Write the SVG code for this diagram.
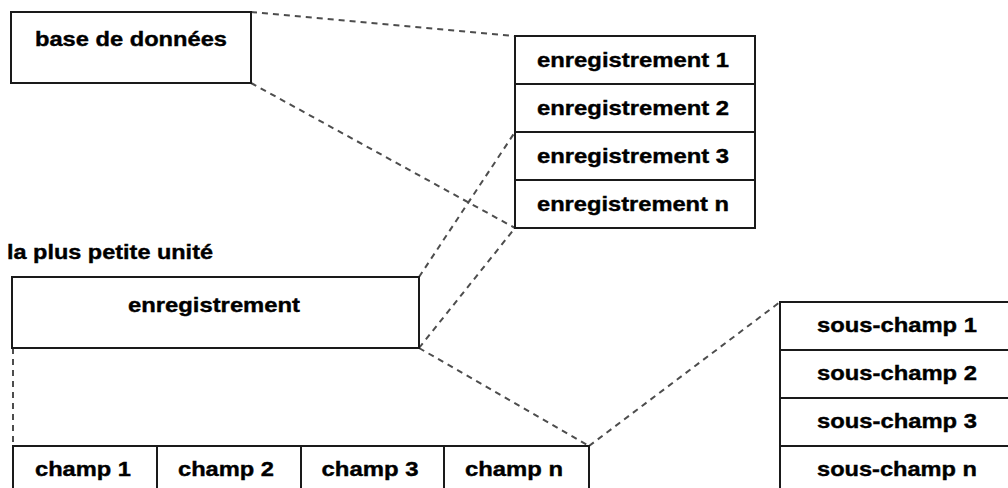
<svg xmlns="http://www.w3.org/2000/svg" width="1008" height="488" viewBox="0 0 1008 488">
  <style>
    .box { fill: #ffffff; stroke: #1a1a1a; stroke-width: 2; }
    .sep { stroke: #1a1a1a; stroke-width: 2; }
    .link { stroke: #4d4d4d; stroke-width: 2; stroke-dasharray: 6 5; fill: none; }
    .lbl, .cap { font-family: "Liberation Sans", Arial, sans-serif; font-weight: bold; font-size: 21px; fill: #000000; stroke: #000000; stroke-width: 0.4; }
    .lbl { text-anchor: middle; }
  </style>
  <rect width="1008" height="488" fill="#ffffff"/>

  <!-- dashed links between the levels -->
  <g id="connectors">
    <line class="link" x1="251" y1="12" x2="515" y2="36"/>
    <line class="link" x1="251" y1="83" x2="515" y2="228"/>
    <line class="link" x1="419" y1="277" x2="515" y2="132"/>
    <line class="link" x1="419" y1="348" x2="515" y2="228"/>
    <line class="link" x1="419" y1="348" x2="589" y2="446"/>
    <line class="link" x1="589" y1="446" x2="780" y2="302"/>
    <line class="link" x1="13" y1="348" x2="13" y2="446"/>
  </g>

  <g id="base-de-donnees">
    <rect class="box" x="11" y="12" width="240" height="71"/>
    <text class="lbl" x="131" y="46" textLength="192" lengthAdjust="spacingAndGlyphs">base de données</text>
  </g>

  <g id="enregistrements">
    <rect class="box" x="515" y="36" width="240" height="192"/>
    <line class="sep" x1="515" y1="84" x2="755" y2="84"/>
    <line class="sep" x1="515" y1="132" x2="755" y2="132"/>
    <line class="sep" x1="515" y1="180" x2="755" y2="180"/>
    <text class="lbl" x="633" y="67" textLength="192" lengthAdjust="spacingAndGlyphs">enregistrement 1</text>
    <text class="lbl" x="633" y="115" textLength="192" lengthAdjust="spacingAndGlyphs">enregistrement 2</text>
    <text class="lbl" x="633" y="163" textLength="192" lengthAdjust="spacingAndGlyphs">enregistrement 3</text>
    <text class="lbl" x="633" y="211" textLength="192" lengthAdjust="spacingAndGlyphs">enregistrement n</text>
  </g>

  <g id="plus-petite-unite">
    <text class="cap" x="7" y="259" textLength="206" lengthAdjust="spacingAndGlyphs">la plus petite unité</text>
  </g>

  <g id="enregistrement">
    <rect class="box" x="12" y="277" width="407" height="71"/>
    <text class="lbl" x="214" y="312" textLength="172" lengthAdjust="spacingAndGlyphs">enregistrement</text>
  </g>

  <g id="champs">
    <rect class="box" x="13" y="446" width="576" height="48"/>
    <line class="sep" x1="157" y1="446" x2="157" y2="494"/>
    <line class="sep" x1="301" y1="446" x2="301" y2="494"/>
    <line class="sep" x1="444" y1="446" x2="444" y2="494"/>
    <text class="lbl" x="83" y="476" textLength="96" lengthAdjust="spacingAndGlyphs">champ 1</text>
    <text class="lbl" x="226" y="476" textLength="96" lengthAdjust="spacingAndGlyphs">champ 2</text>
    <text class="lbl" x="370" y="476" textLength="97" lengthAdjust="spacingAndGlyphs">champ 3</text>
    <text class="lbl" x="514" y="476" textLength="98" lengthAdjust="spacingAndGlyphs">champ n</text>
  </g>

  <g id="sous-champs">
    <rect class="box" x="780" y="302" width="240" height="192"/>
    <line class="sep" x1="780" y1="350" x2="1020" y2="350"/>
    <line class="sep" x1="780" y1="398" x2="1020" y2="398"/>
    <line class="sep" x1="780" y1="446" x2="1020" y2="446"/>
    <text class="lbl" x="897" y="332" textLength="160" lengthAdjust="spacingAndGlyphs">sous-champ 1</text>
    <text class="lbl" x="897" y="380" textLength="160" lengthAdjust="spacingAndGlyphs">sous-champ 2</text>
    <text class="lbl" x="897" y="428" textLength="160" lengthAdjust="spacingAndGlyphs">sous-champ 3</text>
    <text class="lbl" x="897" y="476" textLength="160" lengthAdjust="spacingAndGlyphs">sous-champ n</text>
  </g>
</svg>
